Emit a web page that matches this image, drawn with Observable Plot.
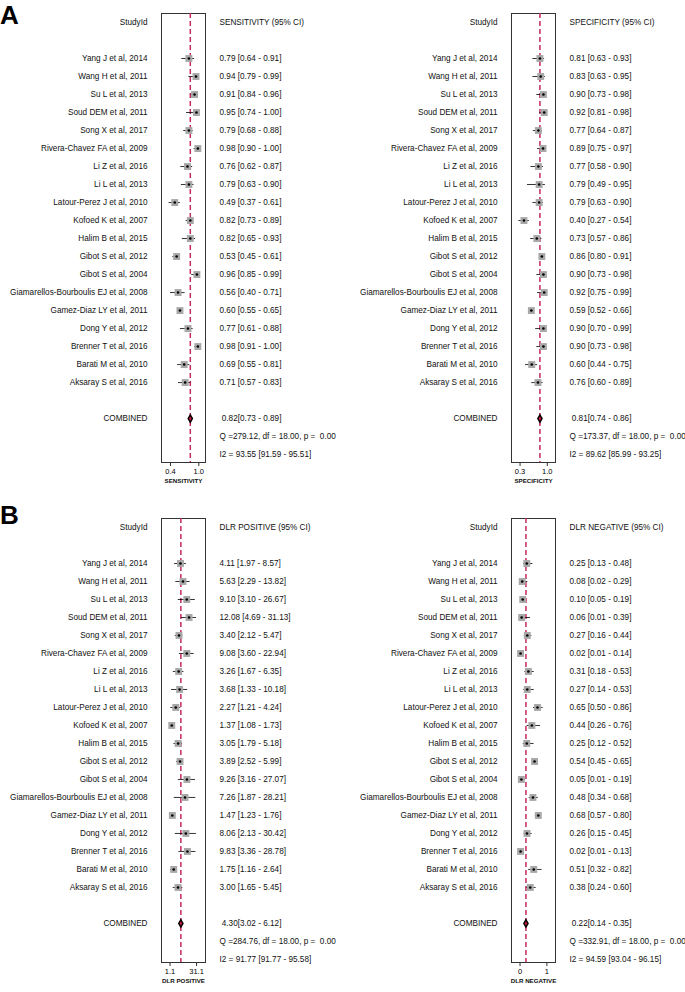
<!DOCTYPE html>
<html><head><meta charset="utf-8">
<script src="https://cdn.jsdelivr.net/npm/d3@7"></script>
<script src="https://cdn.jsdelivr.net/npm/@observablehq/plot@0.6"></script>
<style>
body{margin:0;background:#fff;font-family:"Liberation Sans",Arial,Helvetica,sans-serif;}
#wrap{position:relative;width:685px;height:992px;overflow:hidden;background:#fff;}
.panel{position:absolute;}
.panel svg{overflow:visible;}
.panel text{white-space:pre;}
.letter{position:absolute;font-weight:bold;font-size:26px;line-height:normal;color:#000;}
</style></head><body>
<div id="wrap"></div>
<script>
const studies = ["Yang J et al, 2014","Wang H et al, 2011","Su L et al, 2013","Soud DEM et al, 2011","Song X et al, 2017","Rivera-Chavez FA et al, 2009","Li Z et al, 2016","Li L et al, 2013","Latour-Perez J et al, 2010","Kofoed K et al, 2007","Halim B et al, 2015","Gibot S et al, 2012","Gibot S et al, 2004","Giamarellos-Bourboulis EJ et al, 2008","Gamez-Diaz LY et al, 2011","Dong Y et al, 2012","Brenner T et al, 2016","Barati M et al, 2010","Aksaray S et al, 2016"];

const sensEst = [0.79,0.94,0.91,0.95,0.79,0.98,0.76,0.79,0.49,0.82,0.82,0.53,0.96,0.56,0.60,0.77,0.98,0.69,0.71];
const sensLo  = [0.64,0.79,0.84,0.74,0.68,0.90,0.62,0.63,0.37,0.73,0.65,0.45,0.85,0.40,0.55,0.61,0.91,0.55,0.57];
const sensHi  = [0.91,0.99,0.96,1.00,0.88,1.00,0.87,0.90,0.61,0.89,0.93,0.61,0.99,0.71,0.65,0.88,1.00,0.81,0.83];

const specEst = [0.81,0.83,0.90,0.92,0.77,0.89,0.77,0.79,0.79,0.40,0.73,0.86,0.90,0.92,0.59,0.90,0.90,0.60,0.76];
const specLo  = [0.63,0.63,0.73,0.81,0.64,0.75,0.58,0.49,0.63,0.27,0.57,0.80,0.73,0.75,0.52,0.70,0.73,0.44,0.60];
const specHi  = [0.93,0.95,0.98,0.98,0.87,0.97,0.90,0.95,0.90,0.54,0.86,0.91,0.98,0.99,0.66,0.99,0.98,0.75,0.89];

const dlrpEst = [4.11,5.63,9.10,12.08,3.40,9.08,3.26,3.68,2.27,1.37,3.05,3.89,9.26,7.26,1.47,8.06,9.83,1.75,3.00];
const dlrpLo  = [1.97,2.29,3.10,4.69,2.12,3.60,1.67,1.33,1.21,1.08,1.79,2.52,3.16,1.87,1.23,2.13,3.36,1.16,1.65];
const dlrpHi  = [8.57,13.82,26.67,31.13,5.47,22.94,6.35,10.18,4.24,1.73,5.18,5.99,27.07,28.21,1.76,30.42,28.78,2.64,5.45];

const dlrnEst = [0.25,0.08,0.10,0.06,0.27,0.02,0.31,0.27,0.65,0.44,0.25,0.54,0.05,0.48,0.68,0.26,0.02,0.51,0.38];
const dlrnLo  = [0.13,0.02,0.05,0.01,0.16,0.01,0.18,0.14,0.50,0.26,0.12,0.45,0.01,0.34,0.57,0.15,0.01,0.32,0.24];
const dlrnHi  = [0.48,0.29,0.19,0.39,0.44,0.14,0.53,0.53,0.86,0.76,0.52,0.65,0.19,0.68,0.80,0.45,0.13,0.82,0.60];

// pooled: [estimate, lo, hi]
const sensPooled = [0.82,0.73,0.89];
const specPooled = [0.81,0.74,0.86];
const dlrpPooled = [4.30,3.02,6.12];
const dlrnPooled = [0.22,0.14,0.35];

const heterogeneityQ = ["Q =279.12, df = 18.00, p =  0.00","Q =173.37, df = 18.00, p =  0.00","Q =284.76, df = 18.00, p =  0.00","Q =332.91, df = 18.00, p =  0.00"];
const heterogeneityI2 = ["I2 = 93.55 [91.59 - 95.51]","I2 = 89.62 [85.99 - 93.25]","I2 = 91.77 [91.77 - 95.58]","I2 = 94.59 [93.04 - 96.15]"];

const headers = ["SENSITIVITY (95% CI)","SPECIFICITY (95% CI)","DLR POSITIVE (95% CI)","DLR NEGATIVE (95% CI)"];
const axisTitles = ["SENSITIVITY","SPECIFICITY","DLR POSITIVE","DLR NEGATIVE"];
const tickValues = [[0.4,1.0],[0.3,1.0],[1.1,31.1],[0,1]];
const tickFormats = [".1f",".1f",".1f","d"];

const f2 = d3.format(".2f");
const FONT = "'Liberation Sans', Arial, Helvetica, sans-serif";
const RED = "#c62a5c";

function panel(o) {
  const rows = studies.map((s, i) => ({
    study: s, row: i + 2, est: o.est[i], lo: o.lo[i], hi: o.hi[i],
    txt: `${f2(o.est[i])} [${f2(o.lo[i])} - ${f2(o.hi[i])}]`
  }));
  const pooled = {row: 22, est: o.pooled[0], txt: ` ${f2(o.pooled[0])}[${f2(o.pooled[1])} - ${f2(o.pooled[2])}]`};
  const fs = 8.2;
  return Plot.plot({
    width: o.width, height: o.height,
    marginLeft: o.mLeft, marginRight: o.mRight, marginTop: o.mTop, marginBottom: o.mBottom,
    style: {fontFamily: FONT, background: "transparent", overflow: "visible"},
    x: {type: o.type, domain: o.domain},
    y: {domain: o.rowDomain, reverse: true, axis: null},
    marks: [
      Plot.frame({stroke: "#333", strokeWidth: 1}),
      Plot.ruleX([o.pooled[0]], {stroke: RED, strokeWidth: 1.5, strokeDasharray: "5,3"}),
      Plot.ruleY(rows, {y: "row", x1: "lo", x2: "hi", stroke: "#000", strokeWidth: 0.8}),
      Plot.dot(rows, {x: "est", y: "row", symbol: "square", r: 3.9, fill: "#a8a8a8"}),
      Plot.dot(rows, {x: "est", y: "row", r: 1.3, fill: "#000"}),
      Plot.dot([pooled], {x: "est", y: "row", symbol: "diamond", r: 2.3, fill: "#7a0a20", stroke: "#000", strokeWidth: 1.3}),
      Plot.dot([pooled], {x: "est", y: "row", symbol: "diamond", r: 1.0, fill: "#e0204a"}),
      // left labels
      Plot.text(rows, {y: "row", text: "study", frameAnchor: "left", dx: -14, textAnchor: "end", fontSize: fs, fill: "#111"}),
      Plot.text(["StudyId"], {y: [0], text: d => d, frameAnchor: "left", dx: -14, textAnchor: "end", fontSize: fs, fill: "#111"}),
      Plot.text(["COMBINED"], {y: [22], text: d => d, frameAnchor: "left", dx: -14, textAnchor: "end", fontSize: fs, fill: "#111"}),
      // right labels
      Plot.text([o.header], {y: [0], text: d => d, frameAnchor: "right", dx: 14, textAnchor: "start", fontSize: fs, fill: "#111"}),
      Plot.text(rows, {y: "row", text: "txt", frameAnchor: "right", dx: 14, textAnchor: "start", fontSize: fs, fill: "#111"}),
      Plot.text([pooled], {y: "row", text: "txt", frameAnchor: "right", dx: 14, textAnchor: "start", fontSize: fs, fill: "#111"}),
      Plot.text([o.q], {y: [23], text: d => d, frameAnchor: "right", dx: 14, textAnchor: "start", fontSize: fs, fill: "#111"}),
      Plot.text([o.i2], {y: [24], text: d => d, frameAnchor: "right", dx: 14, textAnchor: "start", fontSize: fs, fill: "#111"}),
      // axis
      Plot.axisX({ticks: o.ticks, tickFormat: d3.format(o.tickFormat), tickSize: 4, tickPadding: 2, fontSize: 7.5, label: null, stroke: "#333"}),
      Plot.text([o.axisTitle], {text: d => d, frameAnchor: "bottom", dy: 20, fontSize: 6.2, fontWeight: "bold", fill: "#111"})
    ]
  });
}

const wrap = document.getElementById("wrap");
function place(node, left, top) {
  const d = document.createElement("div");
  d.className = "panel"; d.style.left = left + "px"; d.style.top = top + "px";
  d.appendChild(node); wrap.appendChild(d);
}
function letter(t, left, top) {
  const d = document.createElement("div");
  d.className = "letter"; d.style.left = left + "px"; d.style.top = top + "px"; d.textContent = t;
  wrap.appendChild(d);
}

const topCfg = {height: 492, mTop: 13, mBottom: 30, rowDomain: [-0.5, 24.44]};
const botCfg = {height: 487, mTop: 13, mBottom: 30, rowDomain: [-0.5, 24.17]};
const leftCfg = {width: 350, mLeft: 161, mRight: 145};
const rightCfg = {width: 335, mLeft: 161, mRight: 130};

place(panel({...topCfg, ...leftCfg, est: sensEst, lo: sensLo, hi: sensHi, pooled: sensPooled,
  header: headers[0], axisTitle: axisTitles[0], q: heterogeneityQ[0], i2: heterogeneityI2[0],
  type: "linear", domain: [0.209, 1.142], ticks: tickValues[0], tickFormat: tickFormats[0]}), 0, 0);
place(panel({...topCfg, ...rightCfg, est: specEst, lo: specLo, hi: specHi, pooled: specPooled,
  header: headers[1], axisTitle: axisTitles[1], q: heterogeneityQ[1], i2: heterogeneityI2[1],
  type: "linear", domain: [0.08, 1.21], ticks: tickValues[1], tickFormat: tickFormats[1]}), 350, 0);
place(panel({...botCfg, ...leftCfg, est: dlrpEst, lo: dlrpLo, hi: dlrpHi, pooled: dlrpPooled,
  header: headers[2], axisTitle: axisTitles[2], q: heterogeneityQ[2], i2: heterogeneityI2[2],
  type: "log", domain: [0.375, 96], ticks: tickValues[2], tickFormat: tickFormats[2]}), 0, 505);
place(panel({...botCfg, ...rightCfg, est: dlrnEst, lo: dlrnLo, hi: dlrnHi, pooled: dlrnPooled,
  header: headers[3], axisTitle: axisTitles[3], q: heterogeneityQ[3], i2: heterogeneityI2[3],
  type: "linear", domain: [-0.318, 1.32], ticks: tickValues[3], tickFormat: tickFormats[3]}), 350, 505);

letter("A", 0, 0);
letter("B", 0, 500);
</script>
</body></html>
